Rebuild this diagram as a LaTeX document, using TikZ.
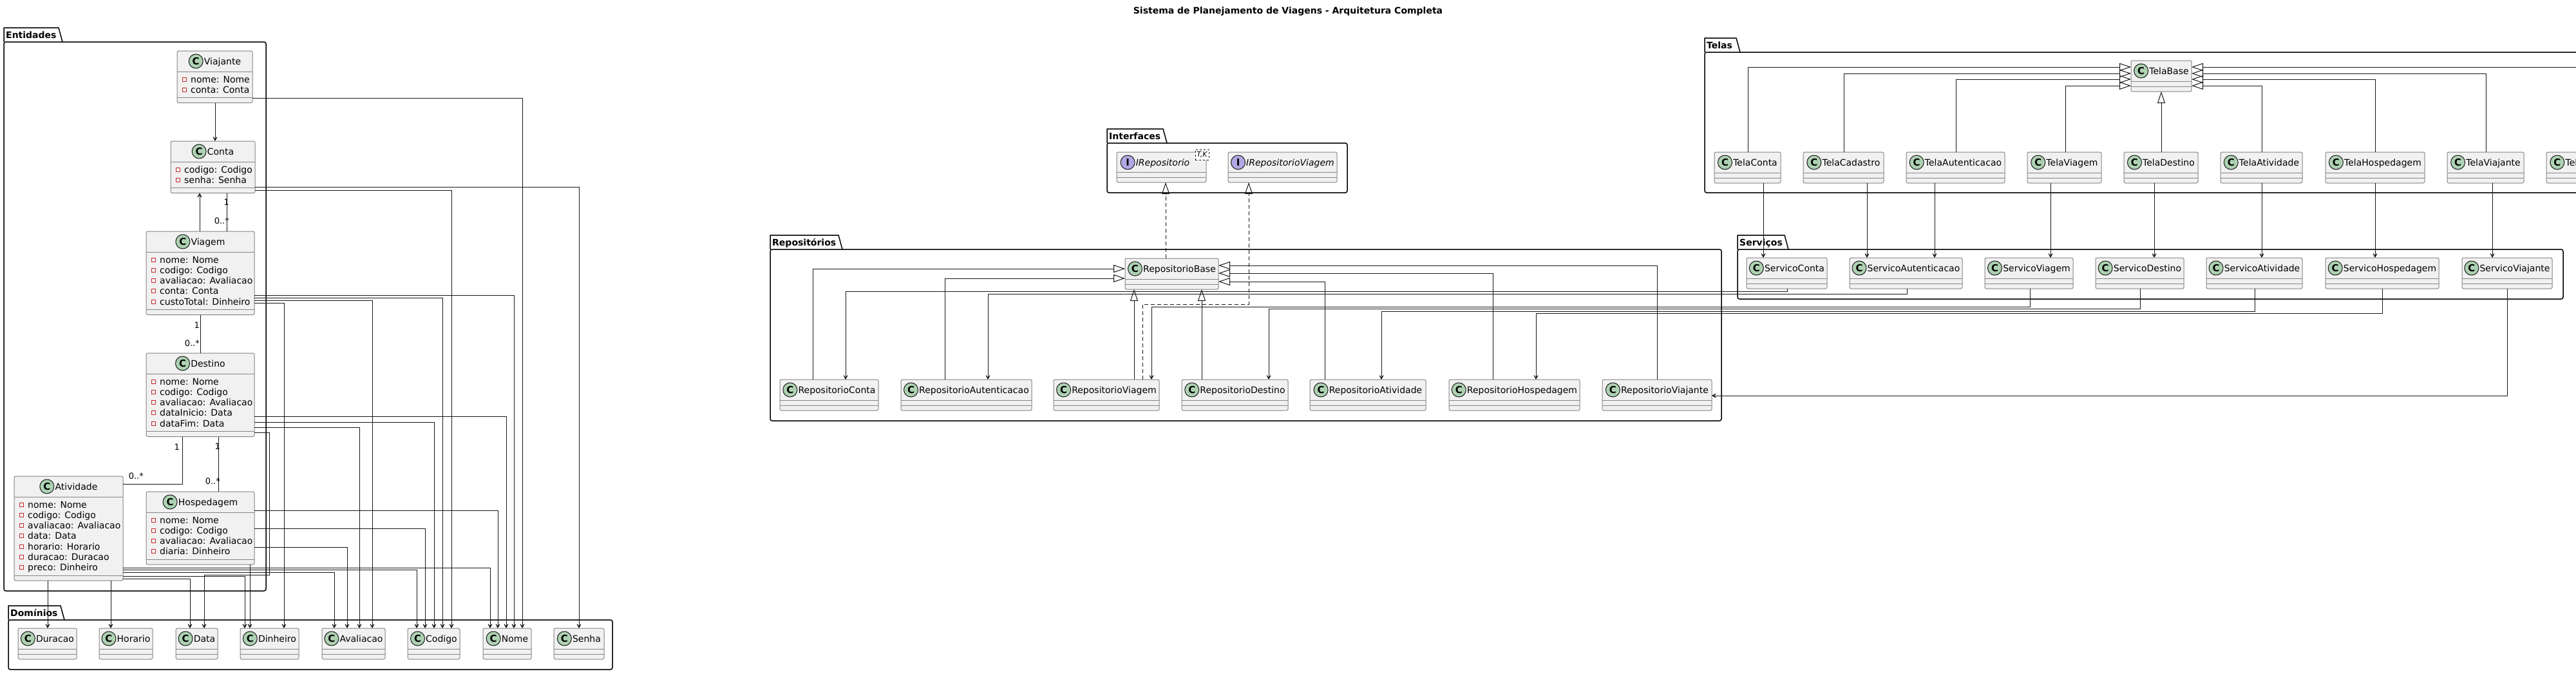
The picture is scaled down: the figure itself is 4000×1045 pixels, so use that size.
\documentclass[tikz,border=0pt]{standalone}
\usepackage{fontspec}
\setmainfont{DejaVu Sans}
\usetikzlibrary{arrows.meta,calc}

\definecolor{clsfundo}{HTML}{F1F1F1}
\definecolor{clsborda}{HTML}{858585}
\definecolor{linha}{HTML}{181818}
\definecolor{verdec}{HTML}{ADD1B2}
\definecolor{lilas}{HTML}{B4A7E5}
\definecolor{vermelho}{HTML}{C82930}

\newcommand{\tamanho}{\fontsize{14}{16}\selectfont}

\newcommand{\classe}[6][0]{%
  \node[clsbox, minimum width=#5, minimum height=48, anchor=north west] (#2) at (#3,#4) {};
  \draw[clssep] ([yshift=-32pt]#2.north west) -- ([yshift=-32pt]#2.north east);
  \draw[clssep] ([yshift=8pt]#2.south west) -- ([yshift=8pt]#2.south east);
  \node[clstitle, label={[cicon]left:C}] (#2-t) at ($(#2.north)+({12+#1},16)$) {#6};
}

\newcommand{\interface}[6][0]{%
  \node[clsbox, minimum width=#5, minimum height=47, anchor=north west] (#2) at (#3,#4) {};
  \draw[clssep] ([yshift=-31pt]#2.north west) -- ([yshift=-31pt]#2.north east);
  \draw[clssep] ([yshift=8pt]#2.south west) -- ([yshift=8pt]#2.south east);
  \node[clstitle, font=\itshape\tamanho, label={[iicon]left:I}] (#2-t) at ($(#2.north)+({12+#1},16)$) {#6};
}

\newcommand{\entidade}[7]{%
  \node[clsbox, minimum width=#4, minimum height={48+16.3*#5}, anchor=north west] (#1) at (#2,#3) {};
  \draw[clssep] ([yshift=-32pt]#1.north west) -- ([yshift=-32pt]#1.north east);
  \draw[clssep] ([yshift=8pt]#1.south west) -- ([yshift=8pt]#1.south east);
  \node[clstitle, label={[cicon]left:C}] (#1-t) at ($(#1.north)+(12,16)$) {#6};
  \foreach \atr [count=\i] in {#7} {
    \draw[priv] ($(#1.north west)+(8,{41+16.3*(\i-1)})$) rectangle ++(6,6);
    \node[attr] (#1-a\i) at ($(#1.north west)+(21,{49+16.3*(\i-1)})$) {\atr};
  }
}

\newcommand{\pacote}[7]{%
  \draw[pkgline] (#2,#3+22) -- (#2,#3) -- (#4-6,#3) -- (#4,#3+22);
  \draw[pkgline, rounded corners=3pt] (#2,#3+22) rectangle (#5,#6);
  \node[pkgtitle] (#1) at (#2+3,#3+11) {#7};
}

\begin{document}
\begin{tikzpicture}[x=1pt, y=-1pt,
  clsbox/.style={draw=clsborda, fill=clsfundo, line width=1pt, rounded corners=2.5pt, inner sep=0pt, outer sep=0pt},
  clssep/.style={draw=clsborda, line width=1pt},
  clstitle/.style={font=\tamanho, inner xsep=1pt, inner ysep=0pt, text height=10pt, text depth=0pt, label distance=2pt},
  cicon/.style={circle, draw=linha, fill=verdec, line width=1pt, minimum size=22pt, inner sep=0pt, font=\bfseries\fontsize{15}{15}\selectfont},
  iicon/.style={cicon, fill=lilas},
  attr/.style={font=\tamanho, anchor=base west, inner sep=0pt},
  priv/.style={draw=vermelho, line width=0.9pt},
  pkgline/.style={draw=black, line width=1.5pt},
  pkgtitle/.style={font=\bfseries\tamanho, inner sep=0pt, anchor=west, text height=10pt, text depth=0pt},
  dep/.style={draw=linha, line width=1pt, -{Stealth[length=10pt, width=11pt, inset=6.5pt]}},
  assoc/.style={draw=linha, line width=1pt},
  herda/.style={draw=linha, line width=1pt, -{Triangle[open, length=18pt, width=12pt]}},
  realiza/.style={herda, dash pattern=on 6pt off 4pt},
  mult/.style={font=\fontsize{13}{15}\selectfont, inner sep=0pt, text height=9pt, text depth=0pt, anchor=east},
  titulo/.style={font=\bfseries\tamanho},
  tmpl/.style={draw=linha, dashed, fill=white, line width=0.8pt, font=\itshape\fontsize{11}{11}\selectfont, minimum width=21pt, minimum height=16pt, inner sep=0pt}
]
\useasboundingbox (0,0) rectangle (4000,1045);
\clip (0,0) rectangle (4000,1045);
\fill[white] (0,0) rectangle (4000,1045);

\node[titulo] (titulo) at (2000,18) {Sistema de Planejamento de Viagens - Arquitetura Completa};

\pacote{pk-entidades}{6}{43}{97}{413}{917}{Entidades}
\pacote{pk-dominios}{13}{940}{100}{951}{1039}{Domínios}
\pacote{pk-interfaces}{1719}{200}{1812}{2092}{299}{Interfaces}
\pacote{pk-repositorios}{1196}{365}{1308}{2673}{653}{Repositórios}
\pacote{pk-telas}{2647}{59}{2702}{4100}{299}{Telas}
\pacote{pk-servicos}{2698}{365}{2777}{3980}{464}{Serviços}

\entidade{viajante}{275}{79}{117}{2}{Viajante}{nome: Nome, conta: Conta}
\entidade{conta}{265}{219}{131}{2}{Conta}{codigo: Codigo, senha: Senha}
\entidade{viagem}{227}{359}{168}{5}{Viagem}{nome: Nome, codigo: Codigo, avaliacao: Avaliacao, conta: Conta, custoTotal: Dinheiro}
\entidade{destino}{227}{548}{168}{5}{Destino}{nome: Nome, codigo: Codigo, avaliacao: Avaliacao, dataInicio: Data, dataFim: Data}
\entidade{atividade}{22}{739}{169}{7}{Atividade}{nome: Nome, codigo: Codigo, avaliacao: Avaliacao, data: Data, horario: Horario, duracao: Duracao, preco: Dinheiro}
\entidade{hospedagem}{227}{763}{168}{4}{Hospedagem}{nome: Nome, codigo: Codigo, avaliacao: Avaliacao, diaria: Dinheiro}

\classe{duracao}{28}{975}{91}{Duracao}
\classe{horario}{154}{975}{83}{Horario}
\classe{data}{273}{975}{65}{Data}
\classe{dinheiro}{373}{975}{91}{Dinheiro}
\classe{avaliacao}{500}{975}{98}{Avaliacao}
\classe{codigo}{633}{975}{81}{Codigo}
\classe{nome}{750}{975}{75}{Nome}
\classe{senha}{860}{975}{78}{Senha}

\interface[-10]{irepositorio}{1734}{236}{139}{IRepositorio}
\interface{irepoviagem}{1907}{236}{169}{IRepositorioViagem}
\node[tmpl] (irepositorio-tk) at (1866.5,240) {T,K};

\classe{repobase}{1747}{401}{145}{RepositorioBase}
\classe{repoconta}{1211}{589}{153}{RepositorioConta}
\classe{repoautenticacao}{1399}{589}{203}{RepositorioAutenticacao}
\classe{repoviagem}{1636}{589}{164}{RepositorioViagem}
\classe{repodestino}{1835}{589}{165}{RepositorioDestino}
\classe{repoatividade}{2034}{589}{180}{RepositorioAtividade}
\classe{repohospedagem}{2250}{589}{203}{RepositorioHospedagem}
\classe{repoviajante}{2488}{589}{170}{RepositorioViajante}

\classe{servconta}{2712}{400}{125}{ServicoConta}
\classe{servautenticacao}{2872}{400}{175}{ServicoAutenticacao}
\classe{servviagem}{3082}{400}{137}{ServicoViagem}
\classe{servdestino}{3254}{400}{137}{ServicoDestino}
\classe{servatividade}{3426}{400}{149}{ServicoAtividade}
\classe{servhospedagem}{3611}{400}{176}{ServicoHospedagem}
\classe{servviajante}{3823}{400}{140}{ServicoViajante}

\classe{telabase}{3309}{94}{94}{TelaBase}
\classe{telaconta}{2662}{236}{103}{TelaConta}
\classe{telacadastro}{2800}{236}{125}{TelaCadastro}
\classe{telaautenticacao}{2960}{236}{153}{TelaAutenticacao}
\classe{telaviagem}{3148}{236}{115}{TelaViagem}
\classe{teladestino}{3298}{236}{115}{TelaDestino}
\classe{telaatividade}{3448}{236}{127}{TelaAtividade}
\classe{telahospedagem}{3611}{236}{154}{TelaHospedagem}
\classe{telaviajante}{3800}{236}{119}{TelaViajante}
\classe{telaprincipal}{3954}{236}{122}{TelaPrincipal}

\draw[dep] (viajante.south -| 334,0) -- (conta.north -| 334,0);
\draw[dep] (viagem.north -| 310,0) -- (conta.south -| 310,0);
\draw[assoc] (conta.south -| 352,0) -- (viagem.north -| 352,0);
\node[mult] (m-conta) at (356,314) {1};
\node[mult] (m-viagem1) at (356,343) {0..*};
\draw[assoc] (viagem.south -| 311,0) -- (destino.north -| 311,0);
\node[mult] (m-viagem2) at (310,505) {1};
\node[mult] (m-destino) at (310,533) {0..*};
\draw[assoc] (destino.south -| 283,0) |- (atividade.east |- 0,751);
\node[mult] (m-destino2) at (279,694) {1};
\node[mult] (m-atividade) at (223,739) {0..*};
\draw[assoc] (destino.south -| 339,0) -- (hospedagem.north -| 339,0);
\node[mult] (m-destino3) at (342,693) {1};
\node[mult] (m-hospedagem) at (342,747) {0..*};

\foreach \de/\y/\para/\x in {viajante/152/nome/811, conta/290/senha/899, conta/295/codigo/701,
    viagem/458/nome/798, viagem/462/codigo/687, viagem/466/avaliacao/578, viagem/470/dinheiro/441,
    destino/646/nome/786, destino/655/codigo/674, destino/663/avaliacao/558,
    hospedagem/792/nome/773, hospedagem/820/codigo/660, hospedagem/849/avaliacao/539,
    atividade/881/nome/761, atividade/884/codigo/647, atividade/888/avaliacao/519,
    atividade/894/dinheiro/380, atividade/898/data/295}
  \draw[dep] (\de.east |- 0,\y) -| (\para.north -| \x,0);
\coordinate (dobra-data) at (418,892);
\draw[dep] (destino.east |- 0,671) -| (dobra-data) -| (data.north -| 317,0);
\draw[dep] (hospedagem.south -| 388,0) -- (dinheiro.north -| 388,0);
\draw[dep] (atividade.south -| 172,0) -- (horario.north -| 172,0);
\draw[dep] (atividade.south -| 74,0) -- (duracao.north -| 74,0);

\draw[realiza] (repobase.north -| 1810,0) -- (irepositorio.south -| 1810,0);
\coordinate (dobra-rv) at (1939,472);
\draw[realiza] (repoviagem.north -| 1774,0) |- (dobra-rv) -- (irepoviagem.south -| dobra-rv);

\draw[herda] (repoconta.north -| 1262,0) |- (repobase.west |- 0,417);
\draw[herda] (repoautenticacao.north -| 1467,0) |- (repobase.west |- 0,432);
\draw[herda] (repoviagem.north -| 1761,0) -- (repobase.south -| 1761,0);
\draw[herda] (repodestino.north -| 1866,0) -- (repobase.south -| 1866,0);
\draw[herda] (repoatividade.north -| 2057,0) |- (repobase.east |- 0,437);
\draw[herda] (repohospedagem.north -| 2318,0) |- (repobase.east |- 0,424);
\draw[herda] (repoviajante.north -| 2573,0) |- (repobase.east |- 0,412);

\draw[herda] (telaconta.north -| 2714,0) |- (telabase.west |- 0,104);
\draw[herda] (telacadastro.north -| 2863,0) |- (telabase.west |- 0,114);
\draw[herda] (telaautenticacao.north -| 3037,0) |- (telabase.west |- 0,123);
\draw[herda] (telaviagem.north -| 3207,0) |- (telabase.west |- 0,133);
\draw[herda] (teladestino.north -| 3356,0) -- (telabase.south -| 3356,0);
\draw[herda] (telaatividade.north -| 3512,0) |- (telabase.east |- 0,133);
\draw[herda] (telahospedagem.north -| 3688,0) |- (telabase.east |- 0,123);
\draw[herda] (telaviajante.north -| 3860,0) |- (telabase.east |- 0,114);
\draw[herda] (telaprincipal.north -| 4015,0) |- (telabase.east |- 0,104);

\foreach \de/\para/\x in {telaconta/servconta/2738, telacadastro/servautenticacao/2899,
    telaautenticacao/servautenticacao/3004, telaviagem/servviagem/3184, teladestino/servdestino/3345,
    telaatividade/servatividade/3512, telahospedagem/servhospedagem/3688, telaviajante/servviajante/3870}
  \draw[dep] (\de.south -| \x,0) -- (\para.north -| \x,0);

\foreach \de/\x/\d/\para/\xx in {servconta/2775/4/repoconta/1313, servautenticacao/2961/8/repoautenticacao/1534,
    servviagem/3152/28/repoviagem/1788, servdestino/3323/31/repodestino/1970,
    servatividade/3501/35/repoatividade/2145, servhospedagem/3699/38/repohospedagem/2385}
  \draw[dep] (\de.south -| \x,0) -- ++(0,\d) -| (\para.north -| \xx,0);
\draw[dep] (servviajante.south -| 3893,0) |- (repoviajante.east |- 0,614);
\end{tikzpicture}
\end{document}
